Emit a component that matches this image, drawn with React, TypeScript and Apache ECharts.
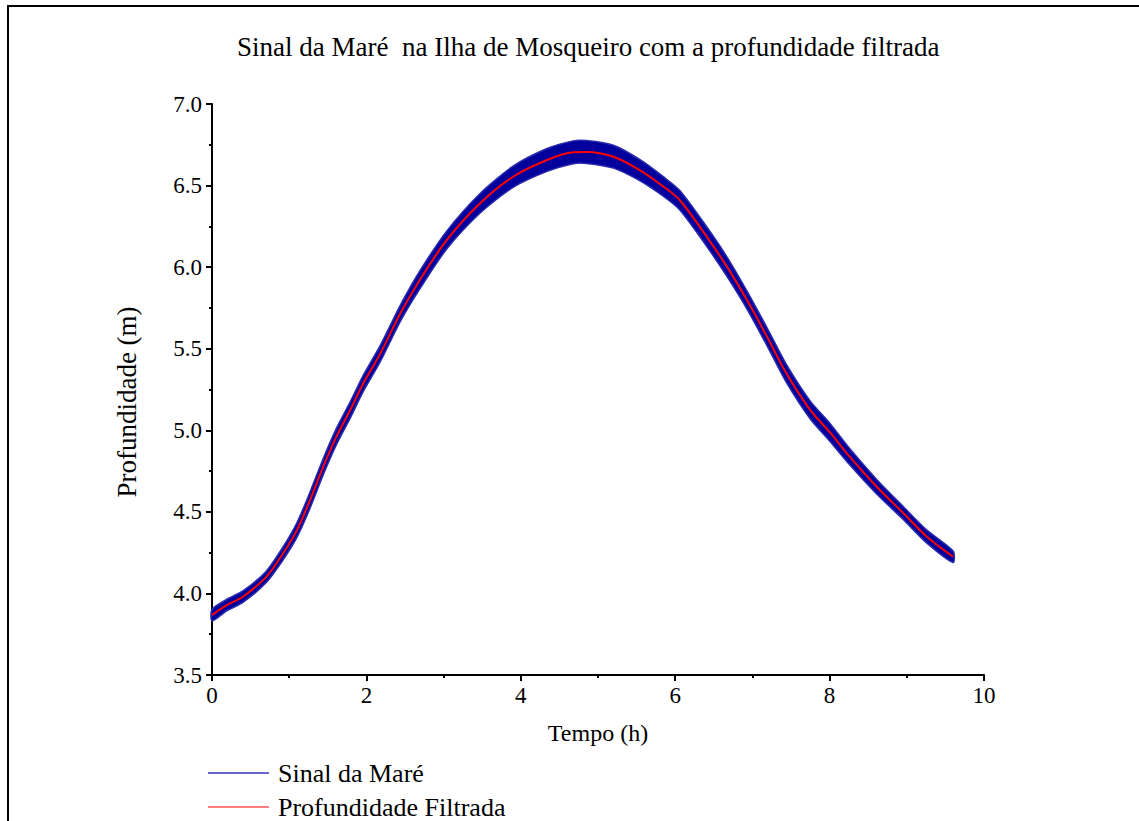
import React, { useEffect, useRef } from "react";
import * as echarts from "echarts";

// Time axis (h) sample positions
const timeH = [0, 0.19, 0.4, 0.7, 0.92, 1.1, 1.27, 1.44, 1.61, 1.79, 1.96, 2.18, 2.44, 2.69, 3.04, 3.47, 3.9, 4.34, 4.68, 4.85, 5.2, 5.54, 5.85, 6.06, 6.41, 6.67, 6.93, 7.19, 7.44, 7.75, 8.0, 8.26, 8.61, 8.96, 9.26, 9.6];
// Filtered depth (m), red curve
const depthFiltered = [3.867, 3.928, 3.98, 4.1, 4.245, 4.388, 4.572, 4.776, 4.96, 5.124, 5.288, 5.47, 5.717, 5.92, 6.166, 6.39, 6.554, 6.657, 6.704, 6.706, 6.677, 6.595, 6.493, 6.41, 6.186, 6.003, 5.798, 5.573, 5.349, 5.124, 4.99, 4.838, 4.654, 4.49, 4.348, 4.225];
// Half range of the raw tide signal (m) around the filtered depth, blue band
const signalHalfRange = [0.035, 0.035, 0.035, 0.035, 0.04, 0.045, 0.05, 0.05, 0.05, 0.05, 0.05, 0.05, 0.05, 0.055, 0.055, 0.06, 0.065, 0.07, 0.07, 0.07, 0.07, 0.065, 0.06, 0.06, 0.06, 0.06, 0.055, 0.055, 0.055, 0.055, 0.055, 0.05, 0.045, 0.04, 0.04, 0.035];

const yTicks = { min: 3.5, max: 7.0, interval: 0.5 };
const xTicks = { min: 0, max: 10, interval: 2 };

const titleText = "Sinal da Maré  na Ilha de Mosqueiro com a profundidade filtrada";
const seriesNames = ["Sinal da Maré", "Profundidade Filtrada"];
const FONT = '"Liberation Serif", "Times New Roman", serif';
const BLUE = "#00009C";
const RED = "#FF0000";

export default function App() {
  const ref = useRef<HTMLDivElement>(null);
  useEffect(() => {
    if (!ref.current) return;
    const chart = echarts.init(ref.current, null, { renderer: "svg" });
    const bandData = timeH.map((t, i) => [t, depthFiltered[i], signalHalfRange[i]]);
    const lineData = timeH.map((t, i) => [t, depthFiltered[i]]);
    chart.setOption({
      animation: false,
      backgroundColor: "#ffffff",
      title: {
        text: titleText,
        left: 237,
        top: 33,
        padding: 0,
        textStyle: { fontFamily: FONT, fontSize: 27, fontWeight: "normal", color: "#000" },
      },
      legend: {
        orient: "vertical",
        left: 208,
        top: 760,
        padding: 0,
        itemWidth: 61,
        itemHeight: 1.5,
        itemGap: 8,
        icon: "rect",
        textStyle: { fontFamily: FONT, fontSize: 26, color: "#000", padding: [0, 0, 0, 4], lineHeight: 26 },
        data: [
          { name: seriesNames[0], itemStyle: { color: "#3333BB" } },
          { name: seriesNames[1], itemStyle: { color: "#FF5555" } },
        ],
      },
      grid: { left: 212, right: 155, top: 104, bottom: 146, containLabel: false },
      xAxis: {
        type: "value",
        min: xTicks.min,
        max: xTicks.max,
        interval: xTicks.interval,
        name: "Tempo (h)",
        nameLocation: "middle",
        nameGap: 46,
        nameTextStyle: { fontFamily: FONT, fontSize: 24, color: "#000" },
        axisLine: { show: true, onZero: false, lineStyle: { color: "#000", width: 2 } },
        axisTick: { show: true, length: 6, lineStyle: { color: "#000", width: 2 } },
        minorTick: { show: true, splitNumber: 2, length: 3, lineStyle: { color: "#000", width: 2 } },
        splitLine: { show: false },
        axisLabel: { fontFamily: FONT, fontSize: 23, color: "#000", margin: 9 },
      },
      yAxis: {
        type: "value",
        min: yTicks.min,
        max: yTicks.max,
        interval: yTicks.interval,
        name: "Profundidade (m)",
        nameLocation: "middle",
        nameGap: 72,
        nameTextStyle: { fontFamily: FONT, fontSize: 27, color: "#000", padding: [0, 25, 0, 0] },
        axisLine: { show: true, onZero: false, lineStyle: { color: "#000", width: 2 } },
        axisTick: { show: true, length: 6, lineStyle: { color: "#000", width: 2 } },
        minorTick: { show: true, splitNumber: 2, length: 3, lineStyle: { color: "#000", width: 2 } },
        splitLine: { show: false },
        axisLabel: {
          fontFamily: FONT,
          fontSize: 23,
          color: "#000",
          margin: 10,
          formatter: (v: number) => v.toFixed(1),
        },
      },
      graphic: [
        {
          type: "rect",
          shape: { x: 8, y: 6, width: 1400, height: 1200 },
          style: { fill: "none", stroke: "#000", lineWidth: 2 },
          silent: true,
          z: 100,
        },
      ],
      series: [
        {
          name: seriesNames[0],
          type: "custom",
          itemStyle: { color: BLUE },
          data: bandData,
          encode: { x: 0, y: 1 },
          renderItem: (params: any, api: any) => {
            if (params.dataIndex !== 0) return null;
            const upper = bandData.map((d) => api.coord([d[0], d[1] + d[2]]));
            const lower = bandData.map((d) => api.coord([d[0], d[1] - d[2]])).reverse();
            return {
              type: "polygon",
              shape: { points: upper.concat(lower), smooth: 0.25 },
              style: { fill: BLUE, stroke: "#2A2AAE", lineWidth: 1.5 },
            };
          },
          z: 2,
        },
        {
          name: seriesNames[1],
          type: "line",
          data: lineData,
          smooth: 0.3,
          showSymbol: false,
          lineStyle: { color: RED, width: 2 },
          itemStyle: { color: RED },
          z: 3,
        },
      ],
    });
    return () => chart.dispose();
  }, []);
  return (
    <div
      ref={ref}
      style={{ position: "fixed", left: 0, top: 0, width: 1139, height: 821 }}
    />
  );
}
